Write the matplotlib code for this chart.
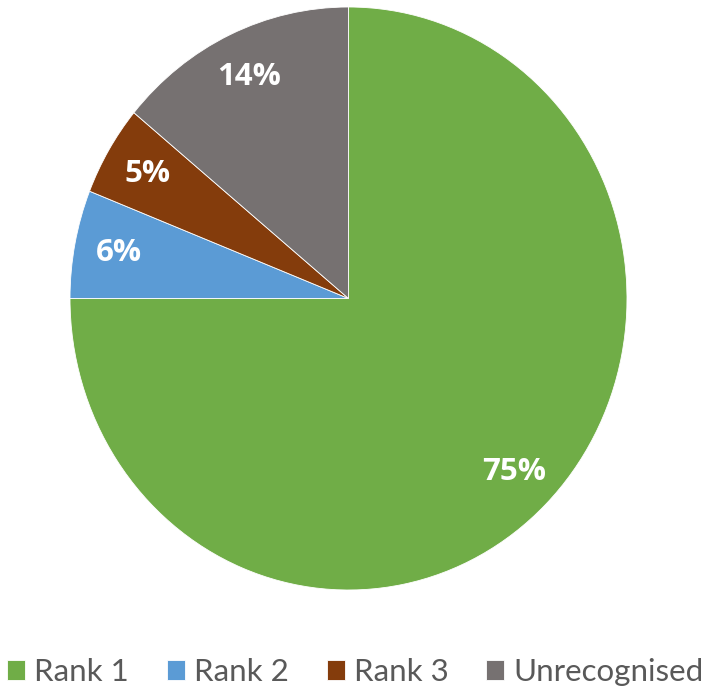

# Pie chart of recognition rank shares

import matplotlib.pyplot as plt

# Chart data
categories = ['Rank 1', 'Rank 2', 'Rank 3', 'Unrecognised']
shares = [75, 6, 5, 14]
colors = ['#70AD47', '#5B9BD5', '#843C0C', '#767171']

# Figure of 708x689 pixels
fig = plt.figure(figsize=(7.08, 6.89), dpi=100)

# Axes placed so the pie fills the same area as the reference
ax = fig.add_axes([70 / 708, (689 - 590) / 689, 557 / 708, 583 / 689])

wedges, texts, autotexts = ax.pie(
    shares,
    colors=colors,
    startangle=90,
    counterclock=False,
    autopct='%1.0f%%',
    pctdistance=0.84,
    wedgeprops={'edgecolor': 'white', 'linewidth': 0.6},
    textprops={'color': 'white', 'fontweight': 'bold', 'fontsize': 22.5, 'family': ['Open Sans', 'DejaVu Sans']},
)

# Reference pie is slightly taller than wide
ax.set_aspect('auto')
ax.set_xlim(-1, 1)
ax.set_ylim(-1, 1)

# Legend along the bottom
fig.legend(
    wedges, categories,
    loc='center',
    bbox_to_anchor=(355.5 / 708, 1 - 672 / 689),
    ncol=4,
    frameon=False,
    borderpad=0,
    borderaxespad=0,
    handlelength=0.58,
    handleheight=0.58,
    handletextpad=0.3,
    columnspacing=1.2,
    prop={'family': ['Lato', 'DejaVu Sans'], 'size': 22.5},
    labelcolor='#595959',
)

plt.savefig('out.png', dpi=100)
plt.close()
